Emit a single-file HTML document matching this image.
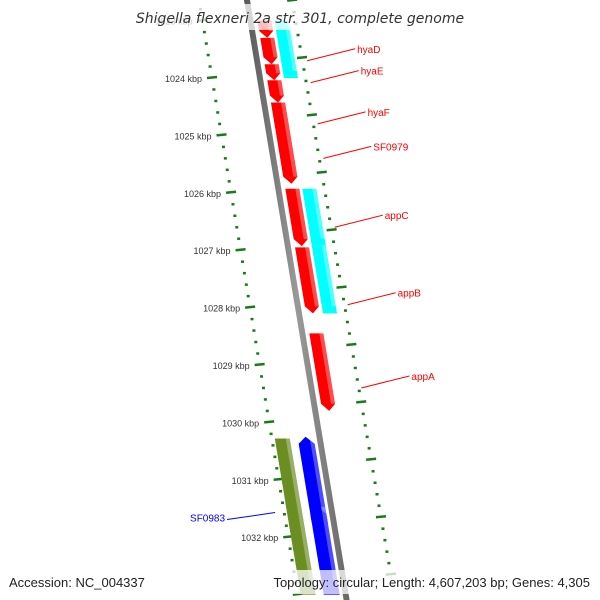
<!DOCTYPE html>
<html><head><meta charset="utf-8"><style>
body{margin:0;background:#fff}
svg{display:block;font-family:"Liberation Sans",sans-serif}
</style></head><body>
<svg id="c" width="600" height="600" viewBox="0 0 600 600">
<defs>
<linearGradient id="gb" x1="0" x2="1"><stop offset="0" stop-color="#555"/><stop offset="0.5" stop-color="#999"/><stop offset="1" stop-color="#666"/></linearGradient>
</defs>
<g id="rings"></g>
<g id="backbone"></g>
<g id="feats"></g>
<g id="labels"></g>
<rect x="138" y="4" width="326" height="26" fill="#fff" opacity="0.75"/>
<text x="300" y="23" text-anchor="middle" font-size="14" font-style="italic" fill="#333" style="font-family:'DejaVu Sans',sans-serif">Shigella flexneri 2a str. 301, complete genome</text>
<rect x="255" y="570" width="340" height="24" fill="#fff" opacity="0.75"/>
<text x="9" y="587" font-size="13" fill="#222">Accession: NC_004337</text>
<text x="590" y="587" text-anchor="end" font-size="13" fill="#222">Topology: circular; Length: 4,607,203 bp; Genes: 4,305</text>
</svg>
<script>
const tickKbp=[1023,1024,1025,1026,1027,1028,1029,1030,1031,1032];
const featNames=["f0","f1","hyaD","hyaE","hyaF","SF0979","appC","appB","appA","c0","c1","c2","SF0983","g1","b0","b1"];
const featStart=[1023.0,1023.3,1023.76,1024.04,1024.43,1024.43,1025.93,1026.95,1028.45,1023.0,1025.93,1026.92,1030.28,1031.38,1030.25,1031.47];
const featEnd=[1023.3,1023.76,1024.04,1024.43,1025.84,1025.84,1026.93,1028.1,1029.8,1024.0,1026.92,1028.1,1032.25,1033.0,1031.75,1033.0];
const featTrack=[1,1,1,1,1,1,1,1,1,2,2,2,-2,-2,-1,-1];
const featDir=[1,1,1,1,1,1,1,1,1,0,0,0,0,0,-1,-1];
const trackColor={"1":"#ff0000","2":"#00ffff","-1":"#0000ff","-2":"#6b8e23"};
const labelNames=["hyaD","hyaE","hyaF","SF0979","appC","appB","appA","SF0983"];
const labelKbp=[1023.7,1024.08,1024.8,1025.4,1026.6,1027.95,1029.4,1031.57];
const labelColor=["red","red","red","red","red","red","red","blue"];
const NS="http://www.w3.org/2000/svg";
function Y(k){return 78+(k-1024)*57.4;}
function BX(y){return 247+0.166*y;}
const trackOff={"1":[7,21],"2":[24,38],"-1":[-22,-6],"-2":[-45,-30]};
function mk(t,a,p){const e=document.createElementNS(NS,t);for(const k in a)e.setAttribute(k,a[k]);p.appendChild(e);return e;}
const rings=document.getElementById('rings');
for(let k=1022.8;k<=1033.4;k+=0.2){
  const kr=Math.round(k*5)/5;const major=Math.abs(kr-Math.round(kr))<0.01;
  const y=Y(kr);
  const lx=212+(y-78)*0.166;
  const d=mk('line',{x1:lx-(major?5:1.5),y1:y,x2:lx+(major?5:1.5),y2:y-(major?1:0),stroke:'#1a7a1a','stroke-width':2.5},rings);
  
  
  const y2=y-20;const rx=302+(y2-58)*0.172;
  const d2=mk('line',{x1:rx-(major?5:1.5),y1:y2,x2:rx+(major?5:1.5),y2:y2-(major?1:0),stroke:'#1a7a1a','stroke-width':2.5},rings);
  
  
}
tickKbp.forEach(k=>{const y=Y(k);const lx=212+(y-78)*0.166;
  const t=mk('text',{x:lx-10,y:y+4,'text-anchor':'end','font-size':9,fill:'#333'},rings);t.textContent=k+' kbp';
  
  });
const bb=document.getElementById('backbone');
const bl=mk('polygon',{points:`${BX(-5)-3},-5 ${BX(-5)+3},-5 ${BX(605)+3},605 ${BX(605)-3},605`,fill:'url(#gb)'},bb);


const fg=document.getElementById('feats');
featNames.forEach((n,i)=>{
  const y1=Y(featStart[i]),y2=Y(featEnd[i]);const o=trackOff[featTrack[i]];
  const a=o[0],b=o[1],m=(a+b)/2;const dir=featDir[i];let pts;
  if(dir===1){const yh=y2-7;pts=[[BX(y1)+a,y1],[BX(y1)+b,y1],[BX(yh)+b,yh],[BX(y2)+m,y2],[BX(yh)+a,yh]];}
  else if(dir===-1){const yh=y1+7;pts=[[BX(y1)+m,y1],[BX(yh)+b,yh],[BX(y2)+b,y2],[BX(y2)+a,y2],[BX(yh)+a,yh]];}
  else pts=[[BX(y1)+a,y1],[BX(y1)+b,y1],[BX(y2)+b,y2],[BX(y2)+a,y2]];
  const c=trackColor[featTrack[i]];
  const p=mk('polygon',{points:pts.map(q=>q.join(',')).join(' '),fill:c},fg);
  
  
  const s=mk('polygon',{points:`${BX(y1)+b-4},${y1} ${BX(y1)+b},${y1} ${BX(y2-7)+b},${y2-7} ${BX(y2-7)+b-4},${y2-7}`,fill:'#fff',opacity:0.3},fg);
  
  
});
const lg=document.getElementById('labels');
labelNames.forEach((n,i)=>{
  const y=Y(labelKbp[i]);const c=labelColor[i];
  if(c==='red'){const x0=BX(y)+50;
    const l=mk('line',{x1:x0,y1:y,x2:x0+48,y2:y-12,stroke:c,'stroke-width':1},lg);
    
    
    const t=mk('text',{x:x0+50,y:y-8,'font-size':10,fill:c},lg);t.textContent=n;
    
    
  }else{const x0=BX(y)-57;
    const l=mk('line',{x1:x0,y1:y,x2:x0-48,y2:y+7,stroke:c,'stroke-width':1},lg);
    
    
    const t=mk('text',{x:x0-50,y:y+9,'font-size':10,fill:c,'text-anchor':'end'},lg);t.textContent=n;
    
    }
});
</script>
</body></html>
